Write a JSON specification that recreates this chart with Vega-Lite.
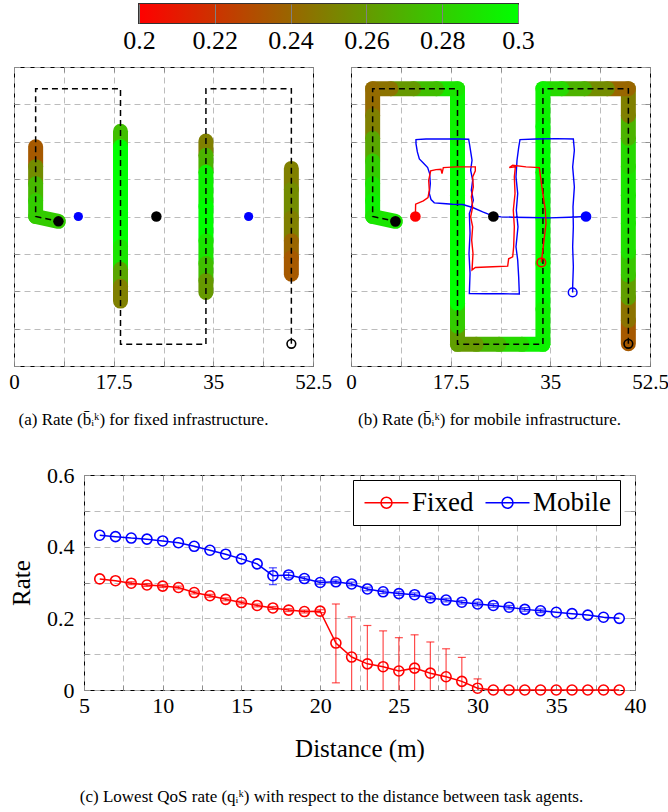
{
"$schema": "https://vega.github.io/schema/vega-lite/v6.json",
"background": "white",
"padding": {"left": 8, "top": 3, "right": 0, "bottom": 0},
"config": {
  "font": "Liberation Serif",
  "view": {"stroke": "black", "strokeWidth": 1},
  "axis": {"labelFont": "Liberation Serif", "titleFont": "Liberation Serif", "labelColor": "black", "titleColor": "black", "titleFontWeight": "normal", "gridColor": "#b4b4b4", "gridDash": [6, 4], "gridWidth": 0.9, "gridOpacity": 1, "tickColor": "#888888", "tickWidth": 0.9, "domain": false, "labelFontSize": 22, "labelFlush": false, "labelOverlap": false},
  "title": {"font": "Liberation Serif", "fontWeight": "normal", "color": "black", "fontSize": 17},
  "legend": {"labelFont": "Liberation Serif"}
},
"datasets": {
  "cbar": [{"lo": 0.2, "hi": 0.3}],
  "route": [
    {"seq": 0, "x": 48.7, "y": 3.9}, {"seq": 1, "x": 48.7, "y": 48.7}, {"seq": 2, "x": 33.7, "y": 48.7},
    {"seq": 3, "x": 33.7, "y": 3.8}, {"seq": 4, "x": 18.7, "y": 3.8}, {"seq": 5, "x": 18.7, "y": 48.7},
    {"seq": 6, "x": 3.8, "y": 48.7}, {"seq": 7, "x": 3.8, "y": 26.25}, {"seq": 8, "x": 7.8, "y": 25.4}
  ],
  "segA": [
    {"x": 3.8, "y": 38.5, "x2": 3.8, "y2": 35, "rate": 0.235},
    {"x": 3.8, "y": 35, "x2": 3.8, "y2": 32, "rate": 0.255},
    {"x": 3.8, "y": 32, "x2": 3.8, "y2": 29, "rate": 0.272},
    {"x": 3.8, "y": 29, "x2": 3.8, "y2": 26.25, "rate": 0.28},
    {"x": 3.8, "y": 26.25, "x2": 7.8, "y2": 25.4, "rate": 0.28},
    {"x": 18.7, "y": 41.2, "x2": 18.7, "y2": 38.5, "rate": 0.275},
    {"x": 18.7, "y": 38.5, "x2": 18.7, "y2": 33, "rate": 0.3},
    {"x": 18.7, "y": 33, "x2": 18.7, "y2": 27, "rate": 0.3},
    {"x": 18.7, "y": 27, "x2": 18.7, "y2": 21, "rate": 0.3},
    {"x": 18.7, "y": 21, "x2": 18.7, "y2": 17, "rate": 0.29},
    {"x": 18.7, "y": 17, "x2": 18.7, "y2": 14, "rate": 0.265},
    {"x": 18.7, "y": 14, "x2": 18.7, "y2": 11.4, "rate": 0.25},
    {"x": 33.7, "y": 39.5, "x2": 33.7, "y2": 37, "rate": 0.25},
    {"x": 33.7, "y": 37, "x2": 33.7, "y2": 34, "rate": 0.27},
    {"x": 33.7, "y": 34, "x2": 33.7, "y2": 28, "rate": 0.295},
    {"x": 33.7, "y": 28, "x2": 33.7, "y2": 22, "rate": 0.3},
    {"x": 33.7, "y": 22, "x2": 33.7, "y2": 18, "rate": 0.29},
    {"x": 33.7, "y": 18, "x2": 33.7, "y2": 15, "rate": 0.275},
    {"x": 33.7, "y": 15, "x2": 33.7, "y2": 12.9, "rate": 0.26},
    {"x": 48.7, "y": 34.7, "x2": 48.7, "y2": 31, "rate": 0.25},
    {"x": 48.7, "y": 31, "x2": 48.7, "y2": 26, "rate": 0.255},
    {"x": 48.7, "y": 26, "x2": 48.7, "y2": 22, "rate": 0.25},
    {"x": 48.7, "y": 22, "x2": 48.7, "y2": 19, "rate": 0.24},
    {"x": 48.7, "y": 19, "x2": 48.7, "y2": 16.1, "rate": 0.235}
  ],
  "segB": [
    {"x": 48.7, "y": 3.9, "x2": 48.7, "y2": 8, "rate": 0.235},
    {"x": 48.7, "y": 8, "x2": 48.7, "y2": 12, "rate": 0.245},
    {"x": 48.7, "y": 12, "x2": 48.7, "y2": 16, "rate": 0.262},
    {"x": 48.7, "y": 16, "x2": 48.7, "y2": 20, "rate": 0.278},
    {"x": 48.7, "y": 20, "x2": 48.7, "y2": 25, "rate": 0.288},
    {"x": 48.7, "y": 25, "x2": 48.7, "y2": 30, "rate": 0.29},
    {"x": 48.7, "y": 30, "x2": 48.7, "y2": 35, "rate": 0.29},
    {"x": 48.7, "y": 35, "x2": 48.7, "y2": 40, "rate": 0.285},
    {"x": 48.7, "y": 40, "x2": 48.7, "y2": 44, "rate": 0.27},
    {"x": 48.7, "y": 44, "x2": 48.7, "y2": 48.7, "rate": 0.25},
    {"x": 48.7, "y": 48.7, "x2": 45, "y2": 48.7, "rate": 0.24},
    {"x": 45, "y": 48.7, "x2": 41, "y2": 48.7, "rate": 0.255},
    {"x": 41, "y": 48.7, "x2": 37, "y2": 48.7, "rate": 0.27},
    {"x": 37, "y": 48.7, "x2": 33.7, "y2": 48.7, "rate": 0.285},
    {"x": 33.7, "y": 48.7, "x2": 33.7, "y2": 42, "rate": 0.295},
    {"x": 33.7, "y": 42, "x2": 33.7, "y2": 34, "rate": 0.3},
    {"x": 33.7, "y": 34, "x2": 33.7, "y2": 26, "rate": 0.3},
    {"x": 33.7, "y": 26, "x2": 33.7, "y2": 18, "rate": 0.3},
    {"x": 33.7, "y": 18, "x2": 33.7, "y2": 10, "rate": 0.3},
    {"x": 33.7, "y": 10, "x2": 33.7, "y2": 3.8, "rate": 0.295},
    {"x": 33.7, "y": 3.8, "x2": 30, "y2": 3.8, "rate": 0.295},
    {"x": 30, "y": 3.8, "x2": 26, "y2": 3.8, "rate": 0.285},
    {"x": 26, "y": 3.8, "x2": 22, "y2": 3.8, "rate": 0.272},
    {"x": 22, "y": 3.8, "x2": 18.7, "y2": 3.8, "rate": 0.26},
    {"x": 18.7, "y": 3.8, "x2": 18.7, "y2": 7, "rate": 0.262},
    {"x": 18.7, "y": 7, "x2": 18.7, "y2": 11, "rate": 0.28},
    {"x": 18.7, "y": 11, "x2": 18.7, "y2": 20, "rate": 0.3},
    {"x": 18.7, "y": 20, "x2": 18.7, "y2": 30, "rate": 0.3},
    {"x": 18.7, "y": 30, "x2": 18.7, "y2": 40, "rate": 0.3},
    {"x": 18.7, "y": 40, "x2": 18.7, "y2": 48.7, "rate": 0.295},
    {"x": 18.7, "y": 48.7, "x2": 15, "y2": 48.7, "rate": 0.29},
    {"x": 15, "y": 48.7, "x2": 11, "y2": 48.7, "rate": 0.275},
    {"x": 11, "y": 48.7, "x2": 7, "y2": 48.7, "rate": 0.26},
    {"x": 7, "y": 48.7, "x2": 3.8, "y2": 48.7, "rate": 0.245},
    {"x": 3.8, "y": 48.7, "x2": 3.8, "y2": 44, "rate": 0.242},
    {"x": 3.8, "y": 44, "x2": 3.8, "y2": 40, "rate": 0.25},
    {"x": 3.8, "y": 40, "x2": 3.8, "y2": 36, "rate": 0.265},
    {"x": 3.8, "y": 36, "x2": 3.8, "y2": 32, "rate": 0.28},
    {"x": 3.8, "y": 32, "x2": 3.8, "y2": 29, "rate": 0.29},
    {"x": 3.8, "y": 29, "x2": 3.8, "y2": 26.25, "rate": 0.295},
    {"x": 3.8, "y": 26.25, "x2": 7.8, "y2": 25.4, "rate": 0.29}
  ],
  "mkA": [
    {"x": 48.7, "y": 3.9, "kind": "route start"},
    {"x": 7.8, "y": 25.4, "kind": "task agent"},
    {"x": 25.0, "y": 26.25, "kind": "task agent"},
    {"x": 11.3, "y": 26.25, "kind": "fixed node"},
    {"x": 41.2, "y": 26.25, "kind": "fixed node"}
  ],
  "mkB": [
    {"x": 48.7, "y": 3.9, "kind": "route start"},
    {"x": 7.8, "y": 25.4, "kind": "task agent"},
    {"x": 25.0, "y": 26.25, "kind": "task agent"},
    {"x": 11.3, "y": 26.25, "kind": "robot 1 end"},
    {"x": 33.42, "y": 18.18, "kind": "robot 1 start"},
    {"x": 41.26, "y": 26.25, "kind": "robot 2 end"},
    {"x": 38.92, "y": 12.92, "kind": "robot 2 start"}
  ],
  "traj": [
    {"robot": "1", "seq": 0, "x": 11.30, "y": 26.25}, {"robot": "1", "seq": 1, "x": 11.35, "y": 28.41},
    {"robot": "1", "seq": 2, "x": 12.70, "y": 29.00}, {"robot": "1", "seq": 3, "x": 13.52, "y": 29.58},
    {"robot": "1", "seq": 4, "x": 13.75, "y": 30.87}, {"robot": "1", "seq": 5, "x": 13.64, "y": 32.62},
    {"robot": "1", "seq": 6, "x": 13.99, "y": 34.26}, {"robot": "1", "seq": 7, "x": 14.93, "y": 34.49},
    {"robot": "1", "seq": 8, "x": 15.80, "y": 34.55}, {"robot": "1", "seq": 9, "x": 15.98, "y": 33.79},
    {"robot": "1", "seq": 10, "x": 16.21, "y": 34.84}, {"robot": "1", "seq": 11, "x": 18.44, "y": 34.96},
    {"robot": "1", "seq": 12, "x": 20.78, "y": 34.96}, {"robot": "1", "seq": 13, "x": 21.83, "y": 34.96},
    {"robot": "1", "seq": 14, "x": 21.83, "y": 34.26}, {"robot": "1", "seq": 15, "x": 21.36, "y": 33.21},
    {"robot": "1", "seq": 16, "x": 21.48, "y": 31.45}, {"robot": "1", "seq": 17, "x": 21.13, "y": 29.70},
    {"robot": "1", "seq": 18, "x": 21.36, "y": 27.94}, {"robot": "1", "seq": 19, "x": 21.01, "y": 26.19},
    {"robot": "1", "seq": 20, "x": 21.36, "y": 24.44}, {"robot": "1", "seq": 21, "x": 21.19, "y": 22.10},
    {"robot": "1", "seq": 22, "x": 21.42, "y": 19.76}, {"robot": "1", "seq": 23, "x": 21.25, "y": 16.84},
    {"robot": "1", "seq": 24, "x": 21.83, "y": 17.30}, {"robot": "1", "seq": 25, "x": 24.88, "y": 17.42},
    {"robot": "1", "seq": 26, "x": 27.51, "y": 17.54}, {"robot": "1", "seq": 27, "x": 27.68, "y": 18.82},
    {"robot": "1", "seq": 28, "x": 28.39, "y": 19.17}, {"robot": "1", "seq": 29, "x": 28.56, "y": 20.93},
    {"robot": "1", "seq": 30, "x": 28.68, "y": 24.44}, {"robot": "1", "seq": 31, "x": 28.50, "y": 27.36},
    {"robot": "1", "seq": 32, "x": 28.80, "y": 30.28}, {"robot": "1", "seq": 33, "x": 28.68, "y": 33.21},
    {"robot": "1", "seq": 34, "x": 28.86, "y": 34.96}, {"robot": "1", "seq": 35, "x": 27.80, "y": 34.84},
    {"robot": "1", "seq": 36, "x": 28.39, "y": 35.25}, {"robot": "1", "seq": 37, "x": 30.73, "y": 34.96},
    {"robot": "1", "seq": 38, "x": 33.07, "y": 34.84}, {"robot": "1", "seq": 39, "x": 33.36, "y": 32.62},
    {"robot": "1", "seq": 40, "x": 33.77, "y": 29.70}, {"robot": "1", "seq": 41, "x": 34.12, "y": 27.36},
    {"robot": "1", "seq": 42, "x": 34.24, "y": 25.02}, {"robot": "1", "seq": 43, "x": 33.89, "y": 22.10},
    {"robot": "1", "seq": 44, "x": 33.54, "y": 19.17}, {"robot": "1", "seq": 45, "x": 33.42, "y": 18.18},
    {"robot": "2", "seq": 0, "x": 41.26, "y": 26.25}, {"robot": "2", "seq": 1, "x": 38.34, "y": 26.13},
    {"robot": "2", "seq": 2, "x": 34.83, "y": 26.01}, {"robot": "2", "seq": 3, "x": 31.31, "y": 26.07},
    {"robot": "2", "seq": 4, "x": 28.39, "y": 26.13}, {"robot": "2", "seq": 5, "x": 26.34, "y": 26.19},
    {"robot": "2", "seq": 6, "x": 24.88, "y": 26.37}, {"robot": "2", "seq": 7, "x": 23.12, "y": 27.07},
    {"robot": "2", "seq": 8, "x": 21.36, "y": 27.83}, {"robot": "2", "seq": 9, "x": 19.61, "y": 28.35},
    {"robot": "2", "seq": 10, "x": 17.85, "y": 28.41}, {"robot": "2", "seq": 11, "x": 16.10, "y": 28.53},
    {"robot": "2", "seq": 12, "x": 14.63, "y": 28.65}, {"robot": "2", "seq": 13, "x": 14.05, "y": 29.23},
    {"robot": "2", "seq": 14, "x": 13.75, "y": 30.28}, {"robot": "2", "seq": 15, "x": 13.93, "y": 32.04},
    {"robot": "2", "seq": 16, "x": 13.81, "y": 33.79}, {"robot": "2", "seq": 17, "x": 13.46, "y": 34.84},
    {"robot": "2", "seq": 18, "x": 12.70, "y": 35.66}, {"robot": "2", "seq": 19, "x": 12.00, "y": 36.36},
    {"robot": "2", "seq": 20, "x": 11.65, "y": 37.59}, {"robot": "2", "seq": 21, "x": 11.41, "y": 39.05},
    {"robot": "2", "seq": 22, "x": 11.41, "y": 39.75}, {"robot": "2", "seq": 23, "x": 13.17, "y": 39.87},
    {"robot": "2", "seq": 24, "x": 16.10, "y": 39.87}, {"robot": "2", "seq": 25, "x": 19.02, "y": 39.87},
    {"robot": "2", "seq": 26, "x": 20.66, "y": 39.81}, {"robot": "2", "seq": 27, "x": 20.84, "y": 38.76},
    {"robot": "2", "seq": 28, "x": 21.07, "y": 37.30}, {"robot": "2", "seq": 29, "x": 21.25, "y": 36.13},
    {"robot": "2", "seq": 30, "x": 21.01, "y": 34.37}, {"robot": "2", "seq": 31, "x": 21.36, "y": 32.62},
    {"robot": "2", "seq": 32, "x": 21.13, "y": 30.87}, {"robot": "2", "seq": 33, "x": 21.48, "y": 29.11},
    {"robot": "2", "seq": 34, "x": 21.07, "y": 27.65}, {"robot": "2", "seq": 35, "x": 20.78, "y": 26.77},
    {"robot": "2", "seq": 36, "x": 20.90, "y": 23.27}, {"robot": "2", "seq": 37, "x": 20.72, "y": 19.76},
    {"robot": "2", "seq": 38, "x": 20.90, "y": 16.25}, {"robot": "2", "seq": 39, "x": 20.78, "y": 12.74},
    {"robot": "2", "seq": 40, "x": 23.70, "y": 12.69}, {"robot": "2", "seq": 41, "x": 26.63, "y": 12.69},
    {"robot": "2", "seq": 42, "x": 29.56, "y": 12.63}, {"robot": "2", "seq": 43, "x": 29.44, "y": 15.67},
    {"robot": "2", "seq": 44, "x": 29.27, "y": 18.59}, {"robot": "2", "seq": 45, "x": 28.97, "y": 20.93},
    {"robot": "2", "seq": 46, "x": 29.32, "y": 24.44}, {"robot": "2", "seq": 47, "x": 29.03, "y": 27.36},
    {"robot": "2", "seq": 48, "x": 29.27, "y": 30.28}, {"robot": "2", "seq": 49, "x": 28.97, "y": 33.21},
    {"robot": "2", "seq": 50, "x": 29.15, "y": 36.13}, {"robot": "2", "seq": 51, "x": 29.44, "y": 38.35},
    {"robot": "2", "seq": 52, "x": 29.67, "y": 39.75}, {"robot": "2", "seq": 53, "x": 32.48, "y": 39.87},
    {"robot": "2", "seq": 54, "x": 36.00, "y": 39.93}, {"robot": "2", "seq": 55, "x": 39.04, "y": 39.87},
    {"robot": "2", "seq": 56, "x": 39.22, "y": 37.88}, {"robot": "2", "seq": 57, "x": 38.92, "y": 34.96},
    {"robot": "2", "seq": 58, "x": 39.22, "y": 31.45}, {"robot": "2", "seq": 59, "x": 38.98, "y": 27.94},
    {"robot": "2", "seq": 60, "x": 39.04, "y": 24.44}, {"robot": "2", "seq": 61, "x": 38.92, "y": 20.93},
    {"robot": "2", "seq": 62, "x": 39.04, "y": 17.42}, {"robot": "2", "seq": 63, "x": 38.92, "y": 13.91},
    {"robot": "2", "seq": 64, "x": 38.92, "y": 12.92}
  ],
  "qos": [
    {"dist": 6, "series": "Fixed", "rate": 0.310, "lo": 0.310, "hi": 0.310},
    {"dist": 7, "series": "Fixed", "rate": 0.305, "lo": 0.305, "hi": 0.305},
    {"dist": 8, "series": "Fixed", "rate": 0.298, "lo": 0.294, "hi": 0.302},
    {"dist": 9, "series": "Fixed", "rate": 0.293, "lo": 0.289, "hi": 0.297},
    {"dist": 10, "series": "Fixed", "rate": 0.290, "lo": 0.286, "hi": 0.294},
    {"dist": 11, "series": "Fixed", "rate": 0.286, "lo": 0.282, "hi": 0.290},
    {"dist": 12, "series": "Fixed", "rate": 0.272, "lo": 0.268, "hi": 0.276},
    {"dist": 13, "series": "Fixed", "rate": 0.263, "lo": 0.259, "hi": 0.267},
    {"dist": 14, "series": "Fixed", "rate": 0.253, "lo": 0.249, "hi": 0.257},
    {"dist": 15, "series": "Fixed", "rate": 0.244, "lo": 0.240, "hi": 0.248},
    {"dist": 16, "series": "Fixed", "rate": 0.236, "lo": 0.232, "hi": 0.240},
    {"dist": 17, "series": "Fixed", "rate": 0.229, "lo": 0.225, "hi": 0.233},
    {"dist": 18, "series": "Fixed", "rate": 0.223, "lo": 0.219, "hi": 0.227},
    {"dist": 19, "series": "Fixed", "rate": 0.219, "lo": 0.215, "hi": 0.223},
    {"dist": 20, "series": "Fixed", "rate": 0.220, "lo": 0.216, "hi": 0.224},
    {"dist": 21, "series": "Fixed", "rate": 0.131, "lo": 0.020, "hi": 0.240},
    {"dist": 22, "series": "Fixed", "rate": 0.092, "lo": -0.021, "hi": 0.204},
    {"dist": 23, "series": "Fixed", "rate": 0.073, "lo": -0.034, "hi": 0.180},
    {"dist": 24, "series": "Fixed", "rate": 0.065, "lo": -0.035, "hi": 0.165},
    {"dist": 25, "series": "Fixed", "rate": 0.053, "lo": -0.040, "hi": 0.146},
    {"dist": 26, "series": "Fixed", "rate": 0.061, "lo": -0.032, "hi": 0.154},
    {"dist": 27, "series": "Fixed", "rate": 0.047, "lo": -0.040, "hi": 0.134},
    {"dist": 28, "series": "Fixed", "rate": 0.037, "lo": -0.041, "hi": 0.115},
    {"dist": 29, "series": "Fixed", "rate": 0.024, "lo": -0.043, "hi": 0.091},
    {"dist": 30, "series": "Fixed", "rate": 0.005, "lo": -0.021, "hi": 0.031},
    {"dist": 31, "series": "Fixed", "rate": 0, "lo": 0, "hi": 0},
    {"dist": 32, "series": "Fixed", "rate": 0, "lo": 0, "hi": 0},
    {"dist": 33, "series": "Fixed", "rate": 0, "lo": 0, "hi": 0},
    {"dist": 34, "series": "Fixed", "rate": 0, "lo": 0, "hi": 0},
    {"dist": 35, "series": "Fixed", "rate": 0, "lo": 0, "hi": 0},
    {"dist": 36, "series": "Fixed", "rate": 0, "lo": 0, "hi": 0},
    {"dist": 37, "series": "Fixed", "rate": 0, "lo": 0, "hi": 0},
    {"dist": 38, "series": "Fixed", "rate": 0, "lo": 0, "hi": 0},
    {"dist": 39, "series": "Fixed", "rate": 0, "lo": 0, "hi": 0},
    {"dist": 6, "series": "Mobile", "rate": 0.432, "lo": 0.432, "hi": 0.432},
    {"dist": 7, "series": "Mobile", "rate": 0.428, "lo": 0.428, "hi": 0.428},
    {"dist": 8, "series": "Mobile", "rate": 0.424, "lo": 0.424, "hi": 0.424},
    {"dist": 9, "series": "Mobile", "rate": 0.421, "lo": 0.421, "hi": 0.421},
    {"dist": 10, "series": "Mobile", "rate": 0.416, "lo": 0.416, "hi": 0.416},
    {"dist": 11, "series": "Mobile", "rate": 0.411, "lo": 0.411, "hi": 0.411},
    {"dist": 12, "series": "Mobile", "rate": 0.401, "lo": 0.401, "hi": 0.401},
    {"dist": 13, "series": "Mobile", "rate": 0.390, "lo": 0.390, "hi": 0.390},
    {"dist": 14, "series": "Mobile", "rate": 0.379, "lo": 0.379, "hi": 0.379},
    {"dist": 15, "series": "Mobile", "rate": 0.366, "lo": 0.366, "hi": 0.366},
    {"dist": 16, "series": "Mobile", "rate": 0.352, "lo": 0.352, "hi": 0.352},
    {"dist": 17, "series": "Mobile", "rate": 0.319, "lo": 0.294, "hi": 0.341},
    {"dist": 18, "series": "Mobile", "rate": 0.321, "lo": 0.313, "hi": 0.328},
    {"dist": 19, "series": "Mobile", "rate": 0.311, "lo": 0.306, "hi": 0.316},
    {"dist": 20, "series": "Mobile", "rate": 0.300, "lo": 0.295, "hi": 0.305},
    {"dist": 21, "series": "Mobile", "rate": 0.302, "lo": 0.297, "hi": 0.307},
    {"dist": 22, "series": "Mobile", "rate": 0.296, "lo": 0.291, "hi": 0.301},
    {"dist": 23, "series": "Mobile", "rate": 0.282, "lo": 0.277, "hi": 0.287},
    {"dist": 24, "series": "Mobile", "rate": 0.274, "lo": 0.269, "hi": 0.279},
    {"dist": 25, "series": "Mobile", "rate": 0.269, "lo": 0.264, "hi": 0.274},
    {"dist": 26, "series": "Mobile", "rate": 0.266, "lo": 0.261, "hi": 0.271},
    {"dist": 27, "series": "Mobile", "rate": 0.257, "lo": 0.252, "hi": 0.262},
    {"dist": 28, "series": "Mobile", "rate": 0.251, "lo": 0.246, "hi": 0.256},
    {"dist": 29, "series": "Mobile", "rate": 0.245, "lo": 0.240, "hi": 0.250},
    {"dist": 30, "series": "Mobile", "rate": 0.240, "lo": 0.235, "hi": 0.245},
    {"dist": 31, "series": "Mobile", "rate": 0.236, "lo": 0.231, "hi": 0.241},
    {"dist": 32, "series": "Mobile", "rate": 0.231, "lo": 0.226, "hi": 0.236},
    {"dist": 33, "series": "Mobile", "rate": 0.225, "lo": 0.220, "hi": 0.230},
    {"dist": 34, "series": "Mobile", "rate": 0.221, "lo": 0.216, "hi": 0.226},
    {"dist": 35, "series": "Mobile", "rate": 0.217, "lo": 0.217, "hi": 0.217},
    {"dist": 36, "series": "Mobile", "rate": 0.213, "lo": 0.213, "hi": 0.213},
    {"dist": 37, "series": "Mobile", "rate": 0.209, "lo": 0.209, "hi": 0.209},
    {"dist": 38, "series": "Mobile", "rate": 0.203, "lo": 0.203, "hi": 0.203},
    {"dist": 39, "series": "Mobile", "rate": 0.200, "lo": 0.200, "hi": 0.200}
  ]
},
"resolve": {"scale": {"color": "independent"}},
"bounds": "full",
"spacing": 12,
"vconcat": [
  {"bounds": "flush", "spacing": 0, "hconcat": [
    {"width": 125, "height": 19, "data": {"values": [{"s": 0}]}, "mark": {"type": "point", "opacity": 0}, "view": {"stroke": null}},
    {"width": 379, "height": 19, "data": {"name": "cbar"},
     "mark": {"type": "rect", "color": {"gradient": "linear", "x1": 0, "y1": 0, "x2": 1, "y2": 0, "stops": [{"offset": 0, "color": "#ff0000"}, {"offset": 1, "color": "#00ff00"}]}},
     "encoding": {
       "x": {"field": "lo", "type": "quantitative", "scale": {"domain": [0.2, 0.3], "nice": false, "zero": false},
             "axis": {"values": [0.2, 0.22, 0.24, 0.26, 0.28, 0.3], "format": ".2~f", "title": null, "grid": true, "gridDash": [], "gridColor": "#808080", "gridWidth": 1, "zindex": 1, "ticks": false, "labelFontSize": 26, "labelPadding": 4}},
       "x2": {"field": "hi"}
     },
     "view": {"stroke": "#333333", "strokeWidth": 2}}
  ]},
  {"bounds": "full", "spacing": 34, "resolve": {"scale": {"color": "independent"}}, "vconcat": [
    {"bounds": "flush", "spacing": 38, "hconcat": [
      {"width": 299, "height": 299,
       "title": {"text": "(a) Rate (b̄ᵢᵏ) for fixed infrastructure.", "orient": "bottom", "anchor": "middle", "frame": "group", "offset": 20, "dx": -20},
       "resolve": {"axis": {"x": "independent", "y": "independent"}},
       "layer": [
         {"data": {"name": "segA"}, "mark": {"type": "rule", "strokeWidth": 15, "strokeCap": "round"},
          "encoding": {
            "x": {"field": "x", "type": "quantitative", "scale": {"domain": [0, 52.5], "nice": false, "zero": false},
                  "axis": {"values": [0, 8.75, 17.5, 26.25, 35, 43.75, 52.5], "format": ".3~g", "labelExpr": "(datum.value == 0 || datum.value == 17.5 || datum.value == 35 || datum.value == 52.5) ? datum.label : ''", "title": null, "grid": true, "tickSize": -5, "labelPadding": 10, "labelFontSize": 21}},
            "y": {"field": "y", "type": "quantitative", "scale": {"domain": [0, 52.5], "nice": false, "zero": false},
                  "axis": {"values": [0, 6.5625, 13.125, 19.6875, 26.25, 32.8125, 39.375, 45.9375, 52.5], "labels": false, "title": null, "grid": true, "tickSize": -5}},
            "x2": {"field": "x2"}, "y2": {"field": "y2"},
            "color": {"field": "rate", "type": "quantitative", "scale": {"domain": [0.2, 0.3], "range": ["#ff0000", "#00ff00"], "interpolate": "rgb", "clamp": true}, "legend": null}
          }},
         {"data": {"name": "route"}, "mark": {"type": "line", "color": "black", "strokeWidth": 1.5, "strokeDash": [6, 4]},
          "encoding": {
            "x": {"field": "x", "type": "quantitative", "scale": {"domain": [0, 52.5], "nice": false, "zero": false},
                  "axis": {"orient": "top", "values": [0, 8.75, 17.5, 26.25, 35, 43.75, 52.5], "labels": false, "title": null, "grid": false, "tickSize": -5}},
            "y": {"field": "y", "type": "quantitative", "scale": {"domain": [0, 52.5], "nice": false, "zero": false},
                  "axis": {"orient": "right", "values": [0, 6.5625, 13.125, 19.6875, 26.25, 32.8125, 39.375, 45.9375, 52.5], "labels": false, "title": null, "grid": false, "tickSize": -5}},
            "order": {"field": "seq", "type": "quantitative"}
          }},
         {"data": {"name": "mkA"}, "transform": [{"filter": "datum.kind === 'task agent'"}], "mark": {"type": "circle", "color": "black", "size": 110, "opacity": 1},
          "encoding": {"x": {"field": "x", "type": "quantitative", "axis": null}, "y": {"field": "y", "type": "quantitative", "axis": null}}},
         {"data": {"name": "mkA"}, "transform": [{"filter": "datum.kind === 'fixed node'"}], "mark": {"type": "circle", "color": "#0000ff", "size": 85, "opacity": 1},
          "encoding": {"x": {"field": "x", "type": "quantitative", "axis": null}, "y": {"field": "y", "type": "quantitative", "axis": null}}},
         {"data": {"name": "mkA"}, "transform": [{"filter": "datum.kind === 'route start'"}], "mark": {"type": "point", "shape": "circle", "filled": false, "color": "black", "strokeWidth": 1.6, "size": 75, "opacity": 1},
          "encoding": {"x": {"field": "x", "type": "quantitative", "axis": null}, "y": {"field": "y", "type": "quantitative", "axis": null}}}
       ]},
      {"width": 299, "height": 299,
       "title": {"text": "(b) Rate (b̄ᵢᵏ) for mobile infrastructure.", "orient": "bottom", "anchor": "middle", "frame": "group", "offset": 20, "dx": -11},
       "resolve": {"axis": {"x": "independent", "y": "independent"}},
       "layer": [
         {"data": {"name": "segB"}, "mark": {"type": "rule", "strokeWidth": 15, "strokeCap": "round"},
          "encoding": {
            "x": {"field": "x", "type": "quantitative", "scale": {"domain": [0, 52.5], "nice": false, "zero": false},
                  "axis": {"values": [0, 8.75, 17.5, 26.25, 35, 43.75, 52.5], "format": ".3~g", "labelExpr": "(datum.value == 0 || datum.value == 17.5 || datum.value == 35 || datum.value == 52.5) ? datum.label : ''", "title": null, "grid": true, "tickSize": -5, "labelPadding": 10, "labelFontSize": 21}},
            "y": {"field": "y", "type": "quantitative", "scale": {"domain": [0, 52.5], "nice": false, "zero": false},
                  "axis": {"values": [0, 6.5625, 13.125, 19.6875, 26.25, 32.8125, 39.375, 45.9375, 52.5], "labels": false, "title": null, "grid": true, "tickSize": -5}},
            "x2": {"field": "x2"}, "y2": {"field": "y2"},
            "color": {"field": "rate", "type": "quantitative", "scale": {"domain": [0.2, 0.3], "range": ["#ff0000", "#00ff00"], "interpolate": "rgb", "clamp": true}, "legend": null}
          }},
         {"data": {"name": "route"}, "mark": {"type": "line", "color": "black", "strokeWidth": 1.5, "strokeDash": [6, 4]},
          "encoding": {
            "x": {"field": "x", "type": "quantitative", "scale": {"domain": [0, 52.5], "nice": false, "zero": false},
                  "axis": {"orient": "top", "values": [0, 8.75, 17.5, 26.25, 35, 43.75, 52.5], "labels": false, "title": null, "grid": false, "tickSize": -5}},
            "y": {"field": "y", "type": "quantitative", "scale": {"domain": [0, 52.5], "nice": false, "zero": false},
                  "axis": {"orient": "right", "values": [0, 6.5625, 13.125, 19.6875, 26.25, 32.8125, 39.375, 45.9375, 52.5], "labels": false, "title": null, "grid": false, "tickSize": -5}},
            "order": {"field": "seq", "type": "quantitative"}
          }},
         {"data": {"name": "traj"}, "transform": [{"filter": "datum.robot === '2'"}], "mark": {"type": "line", "color": "#0000ff", "strokeWidth": 1.4},
          "encoding": {"x": {"field": "x", "type": "quantitative", "axis": null}, "y": {"field": "y", "type": "quantitative", "axis": null}, "order": {"field": "seq", "type": "quantitative"}}},
         {"data": {"name": "traj"}, "transform": [{"filter": "datum.robot === '1'"}], "mark": {"type": "line", "color": "#ff0000", "strokeWidth": 1.4},
          "encoding": {"x": {"field": "x", "type": "quantitative", "axis": null}, "y": {"field": "y", "type": "quantitative", "axis": null}, "order": {"field": "seq", "type": "quantitative"}}},
         {"data": {"name": "mkB"}, "transform": [{"filter": "datum.kind === 'task agent'"}], "mark": {"type": "circle", "color": "black", "size": 115, "opacity": 1},
          "encoding": {"x": {"field": "x", "type": "quantitative", "axis": null}, "y": {"field": "y", "type": "quantitative", "axis": null}}},
         {"data": {"name": "mkB"}, "transform": [{"filter": "datum.kind === 'robot 1 end'"}], "mark": {"type": "circle", "color": "#ff0000", "size": 115, "opacity": 1},
          "encoding": {"x": {"field": "x", "type": "quantitative", "axis": null}, "y": {"field": "y", "type": "quantitative", "axis": null}}},
         {"data": {"name": "mkB"}, "transform": [{"filter": "datum.kind === 'robot 2 end'"}], "mark": {"type": "circle", "color": "#0000ff", "size": 115, "opacity": 1},
          "encoding": {"x": {"field": "x", "type": "quantitative", "axis": null}, "y": {"field": "y", "type": "quantitative", "axis": null}}},
         {"data": {"name": "mkB"}, "transform": [{"filter": "datum.kind === 'robot 1 start'"}], "mark": {"type": "point", "shape": "circle", "filled": false, "color": "#ff0000", "strokeWidth": 1.5, "size": 75, "opacity": 1},
          "encoding": {"x": {"field": "x", "type": "quantitative", "axis": null}, "y": {"field": "y", "type": "quantitative", "axis": null}}},
         {"data": {"name": "mkB"}, "transform": [{"filter": "datum.kind === 'robot 2 start'"}], "mark": {"type": "point", "shape": "circle", "filled": false, "color": "#0000ff", "strokeWidth": 1.5, "size": 75, "opacity": 1},
          "encoding": {"x": {"field": "x", "type": "quantitative", "axis": null}, "y": {"field": "y", "type": "quantitative", "axis": null}}},
         {"data": {"name": "mkB"}, "transform": [{"filter": "datum.kind === 'route start'"}], "mark": {"type": "point", "shape": "circle", "filled": false, "color": "black", "strokeWidth": 1.6, "size": 75, "opacity": 1},
          "encoding": {"x": {"field": "x", "type": "quantitative", "axis": null}, "y": {"field": "y", "type": "quantitative", "axis": null}}}
       ]}
    ]},
    {"bounds": "flush", "spacing": 0, "hconcat": [
      {"width": 70, "height": 215, "data": {"values": [{"s": 0}]}, "mark": {"type": "point", "opacity": 0}, "view": {"stroke": null}},
      {"width": 551, "height": 215, "data": {"name": "qos"},
       "title": {"text": "(c) Lowest QoS rate (qᵢᵏ) with respect to the distance between task agents.", "orient": "bottom", "anchor": "middle", "frame": "group", "offset": 28, "dx": -28},
       "resolve": {"axis": {"x": "independent", "y": "independent"}},
       "layer": [
         {"mark": {"type": "line", "strokeWidth": 1.5},
          "encoding": {
            "x": {"field": "dist", "type": "quantitative", "scale": {"domain": [5, 40], "nice": false, "zero": false},
                  "axis": {"values": [5, 7.5, 10, 12.5, 15, 17.5, 20, 22.5, 25, 27.5, 30, 32.5, 35, 37.5, 40], "format": ".2~f", "labelExpr": "datum.value % 5 === 0 ? datum.label : ''", "title": "Distance (m)", "titleFontSize": 25, "titlePadding": 20, "grid": true, "tickSize": -5, "labelPadding": 10}},
            "y": {"field": "rate", "type": "quantitative", "scale": {"domain": [0, 0.6], "nice": false, "zero": false},
                  "axis": {"values": [0, 0.1, 0.2, 0.3, 0.4, 0.5, 0.6], "format": ".1~f", "labelExpr": "round(datum.value * 10) % 2 === 0 ? datum.label : ''", "title": "Rate", "titleFontSize": 25, "titlePadding": 12, "grid": true, "tickSize": -5, "labelPadding": 15}},
            "color": {"field": "series", "type": "nominal", "scale": {"domain": ["Fixed", "Mobile"], "range": ["#ff0000", "#0000ff"]},
                      "legend": {"orient": "none", "legendX": 339, "legendY": 5, "direction": "horizontal", "title": null, "symbolType": "M-2,0H2M0.5,0A0.5,0.5,0,1,1,-0.5,0A0.5,0.5,0,1,1,0.5,0", "symbolSize": 484, "symbolStrokeWidth": 1.5, "symbolOffset": 11, "labelOffset": 12, "columnPadding": 8, "padding": 9, "strokeColor": "black", "fillColor": "white", "labelFontSize": 27, "labelFont": "Liberation Serif", "labelColor": "black",
                                 "encode": {"symbols": {"update": {"fill": {"value": "transparent"}, "opacity": {"value": 1}, "strokeOpacity": {"value": 1}}}}}}
          }},
         {"transform": [{"filter": "datum.hi > datum.lo"}], "mark": {"type": "rule", "strokeWidth": 1.2, "opacity": 0.7, "clip": true},
          "encoding": {
            "x": {"field": "dist", "type": "quantitative", "scale": {"domain": [5, 40], "nice": false, "zero": false},
                  "axis": {"orient": "top", "values": [5, 7.5, 10, 12.5, 15, 17.5, 20, 22.5, 25, 27.5, 30, 32.5, 35, 37.5, 40], "labels": false, "title": null, "grid": false, "tickSize": -5}},
            "y": {"field": "lo", "type": "quantitative", "scale": {"domain": [0, 0.6], "nice": false, "zero": false},
                  "axis": {"orient": "right", "values": [0, 0.1, 0.2, 0.3, 0.4, 0.5, 0.6], "labels": false, "title": null, "grid": false, "tickSize": -5}},
            "y2": {"field": "hi"},
            "stroke": {"field": "series", "type": "nominal", "scale": {"domain": ["Fixed", "Mobile"], "range": ["#ff0000", "#0000ff"]}, "legend": null}
          }},
         {"transform": [{"filter": "datum.hi > datum.lo"}], "mark": {"type": "rule", "strokeWidth": 1.2, "opacity": 0.7, "clip": true, "xOffset": -4, "x2Offset": 4},
          "encoding": {
            "x": {"field": "dist", "type": "quantitative", "scale": {"domain": [5, 40], "nice": false, "zero": false}, "axis": null},
            "x2": {"field": "dist"},
            "y": {"field": "hi", "type": "quantitative", "scale": {"domain": [0, 0.6], "nice": false, "zero": false}, "axis": null},
            "stroke": {"field": "series", "type": "nominal", "scale": {"domain": ["Fixed", "Mobile"], "range": ["#ff0000", "#0000ff"]}, "legend": null}
          }},
         {"transform": [{"filter": "datum.hi > datum.lo"}], "mark": {"type": "rule", "strokeWidth": 1.2, "opacity": 0.7, "clip": true, "xOffset": -4, "x2Offset": 4},
          "encoding": {
            "x": {"field": "dist", "type": "quantitative", "scale": {"domain": [5, 40], "nice": false, "zero": false}, "axis": null},
            "x2": {"field": "dist"},
            "y": {"field": "lo", "type": "quantitative", "scale": {"domain": [0, 0.6], "nice": false, "zero": false}, "axis": null},
            "stroke": {"field": "series", "type": "nominal", "scale": {"domain": ["Fixed", "Mobile"], "range": ["#ff0000", "#0000ff"]}, "legend": null}
          }},
         {"mark": {"type": "point", "shape": "circle", "filled": false, "size": 100, "strokeWidth": 1.6, "opacity": 1},
          "encoding": {
            "x": {"field": "dist", "type": "quantitative", "scale": {"domain": [5, 40], "nice": false, "zero": false}, "axis": null},
            "y": {"field": "rate", "type": "quantitative", "scale": {"domain": [0, 0.6], "nice": false, "zero": false}, "axis": null},
            "color": {"field": "series", "type": "nominal", "scale": {"domain": ["Fixed", "Mobile"], "range": ["#ff0000", "#0000ff"]}}
          }}
       ]}
    ]}
  ]}
]
}
